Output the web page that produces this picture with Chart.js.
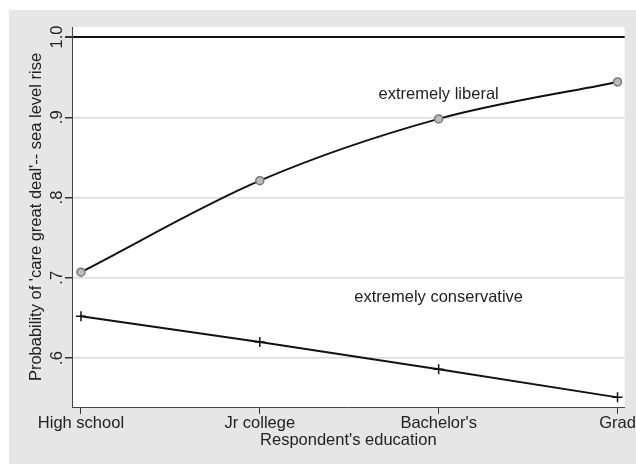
<!DOCTYPE html>
<html>
<head>
<meta charset="utf-8">
<script src="https://cdn.jsdelivr.net/npm/chart.js@4"></script>
<style>
  html, body { margin: 0; padding: 0; background: #ffffff; }
  #wrap { width: 636px; height: 464px; position: relative; }
</style>
</head>
<body>
<div id="wrap"><canvas id="chart" width="636" height="464"></canvas></div>
<script>
// education categories along the x axis
const categories = ['High school', 'Jr college', "Bachelor's", 'Grad'];
// predicted probabilities
const liberalValues = [0.707, 0.821, 0.898, 0.944];
const conservativeValues = [0.652, 0.620, 0.586, 0.551];
// y axis ticks and their labels
const yTicks = [0.6, 0.7, 0.8, 0.9, 1.0];
const yTickLabels = ['.6', '.7', '.8', '.9', '1.0'];

const FONT = '"Liberation Sans", Arial, sans-serif';
const SIZE = 16.5;
const TEXT = '#222222';

const toPoints = vals => vals.map((v, i) => ({ x: i, y: v }));

// background panels and all the custom text
const stataLook = {
    id: 'stataLook',
    beforeDraw(chart) {
        const { ctx, chartArea: a } = chart;
        ctx.save();
        ctx.fillStyle = '#ffffff';
        ctx.fillRect(0, 0, chart.width, chart.height);
        ctx.fillStyle = '#e6e6e6';
        ctx.fillRect(9, 10, chart.width - 9, chart.height - 10);
        ctx.fillStyle = '#ffffff';
        ctx.fillRect(a.left, a.top, a.right - a.left, a.bottom - a.top);
        ctx.restore();
    },
    afterDraw(chart) {
        const { ctx, chartArea: a } = chart;
        const y = chart.scales.y;
        const x = chart.scales.x;
        ctx.save();
        ctx.fillStyle = TEXT;
        ctx.font = SIZE + 'px ' + FONT;
        ctx.textAlign = 'center';
        ctx.textBaseline = 'middle';

        // rotated y tick labels
        yTicks.forEach((t, i) => {
            ctx.save();
            ctx.translate(57, y.getPixelForValue(t));
            ctx.rotate(-Math.PI / 2);
            ctx.fillText(yTickLabels[i], 0, 0);
            ctx.restore();
        });

        // y title
        ctx.save();
        ctx.translate(36, (a.top + a.bottom) / 2);
        ctx.rotate(-Math.PI / 2);
        ctx.fillText("Probability of 'care great deal'-- sea level rise", 0, 0);
        ctx.restore();

        // x title
        ctx.fillText("Respondent's education", (a.left + a.right) / 2, 440);

        // series labels
        ctx.fillText('extremely liberal', x.getPixelForValue(2), y.getPixelForValue(0.929));
        ctx.fillText('extremely conservative', x.getPixelForValue(2), y.getPixelForValue(0.675));
        ctx.restore();
    }
};

new Chart(document.getElementById('chart'), {
    type: 'line',
    data: {
        datasets: [{
            label: 'extremely liberal',
            data: toPoints(liberalValues),
            borderColor: '#111111',
            borderWidth: 2,
            cubicInterpolationMode: 'monotone',
            pointStyle: 'circle',
            pointRadius: 4,
            pointBorderWidth: 1.5,
            pointBorderColor: '#777777',
            pointBackgroundColor: '#bbbbbb'
        }, {
            label: 'extremely conservative',
            data: toPoints(conservativeValues),
            borderColor: '#111111',
            borderWidth: 2,
            tension: 0,
            pointStyle: 'cross',
            pointRadius: 5,
            pointBorderWidth: 1.5,
            pointBorderColor: '#111111'
        }]
    },
    options: {
        responsive: false,
        animation: false,
        layout: { padding: { left: 0, top: 27, right: 11, bottom: 0 } },
        plugins: {
            legend: { display: false },
            tooltip: { enabled: false }
        },
        scales: {
            x: {
                type: 'linear',
                min: -0.05,
                max: 3.04,
                afterBuildTicks: s => { s.ticks = categories.map((c, i) => ({ value: i })); },
                afterFit: s => { s.height = 57; },
                grid: {
                    drawOnChartArea: false,
                    drawTicks: true,
                    tickLength: 7,
                    tickColor: '#333333'
                },
                border: { color: '#444444', width: 1 },
                ticks: {
                    color: TEXT,
                    font: { family: FONT, size: SIZE },
                    padding: 0,
                    maxRotation: 0,
                    callback: v => categories[v]
                }
            },
            y: {
                min: 0.539,
                max: 1.0125,
                afterBuildTicks: s => { s.ticks = yTicks.map(v => ({ value: v })); },
                afterFit: s => { s.width = 72; },
                grid: {
                    color: c => (c.tick && c.tick.value === 1 ? '#111111' : '#dadada'),
                    lineWidth: c => (c.tick && c.tick.value === 1 ? 2 : 1.5),
                    drawTicks: true,
                    tickLength: 7,
                    tickColor: '#333333'
                },
                border: { color: '#444444', width: 1 },
                ticks: { display: false }
            }
        }
    },
    plugins: [stataLook]
});
</script>
</body>
</html>
